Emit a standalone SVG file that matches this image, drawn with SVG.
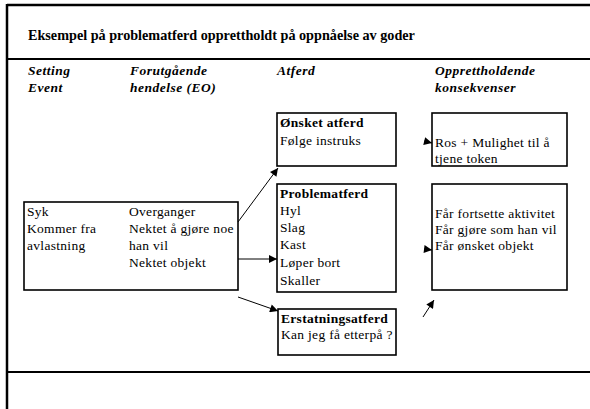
<svg xmlns="http://www.w3.org/2000/svg" width="590" height="409" viewBox="0 0 590 409">
<style>
.t{font-size:13.5px;letter-spacing:0.3px}
.b{font-weight:bold}
.h{font-size:13.5px;font-weight:bold;font-style:italic;letter-spacing:0.5px}
.title{font-size:14.2px;font-weight:bold}
.box{fill:#fff;stroke:#000;stroke-width:1.6}
.frame{stroke:#000;fill:none}
.conn line{stroke:#000;stroke-width:1}
</style>
<defs>
<marker id="ah" viewBox="0 0 10 10" refX="10" refY="5" markerWidth="9" markerHeight="8" markerUnits="userSpaceOnUse" orient="auto">
<path d="M0,0 L10,5 L0,10 z" fill="#000"/>
</marker>
</defs>
<rect width="590" height="409" fill="#fff"/>
<g font-family="'Liberation Serif', 'Times New Roman', serif" fill="#000">
<g id="frame">
<line class="frame" x1="7" y1="5" x2="590" y2="5" stroke-width="2.5"/>
<line class="frame" x1="7" y1="4" x2="7" y2="409" stroke-width="2.5"/>
<line class="frame" x1="7" y1="59" x2="590" y2="59" stroke-width="2"/>
<line class="frame" x1="7" y1="372" x2="590" y2="372" stroke-width="2"/>
</g>
<g id="title"><text class="title" x="28" y="40">Eksempel på problematferd opprettholdt på oppnåelse av goder</text></g>
<g id="headers">
<text class="h" x="28" y="75">Setting</text>
<text class="h" x="28" y="92">Event</text>
<text class="h" x="130" y="75">Forutgående</text>
<text class="h" x="130" y="92">hendelse (EO)</text>
<text class="h" x="277" y="75">Atferd</text>
<text class="h" x="435" y="75">Opprettholdende</text>
<text class="h" x="435" y="92">konsekvenser</text>
</g>
<g id="setting">
<rect class="box" x="24" y="202" width="214" height="88"/>
<text class="t" x="27" y="216">Syk</text>
<text class="t" x="27" y="233">Kommer fra</text>
<text class="t" x="27" y="250">avlastning</text>
<text class="t" x="129" y="216">Overganger</text>
<text class="t" x="129" y="233">Nektet å gjøre noe</text>
<text class="t" x="129" y="250">han vil</text>
<text class="t" x="129" y="267">Nektet objekt</text>
</g>
<g id="onsket">
<rect class="box" x="277" y="113" width="119" height="53"/>
<text class="t b" x="280" y="127">Ønsket atferd</text>
<text class="t" x="280" y="145">Følge instruks</text>
</g>
<g id="ros">
<rect class="box" x="432" y="113" width="135" height="53"/>
<text class="t" x="435" y="147">Ros + Mulighet til å</text>
<text class="t" x="435" y="163">tjene token</text>
</g>
<g id="problem">
<rect class="box" x="277" y="184" width="119" height="108"/>
<text class="t b" x="280" y="198">Problematferd</text>
<text class="t" x="280" y="215">Hyl</text>
<text class="t" x="280" y="232">Slag</text>
<text class="t" x="280" y="249">Kast</text>
<text class="t" x="280" y="267">Løper bort</text>
<text class="t" x="280" y="285">Skaller</text>
</g>
<g id="far">
<rect class="box" x="432" y="184" width="135" height="106"/>
<text class="t" x="435" y="218">Får fortsette aktivitet</text>
<text class="t" x="435" y="234">Får gjøre som han vil</text>
<text class="t" x="435" y="250">Får ønsket objekt</text>
</g>
<g id="erstatning">
<rect class="box" x="278" y="309" width="118" height="46"/>
<text class="t b" x="281" y="323">Erstatningsatferd</text>
<text class="t" x="281" y="339">Kan jeg få etterpå ?</text>
</g>
<g class="conn" id="connectors">
<line x1="238" y1="222" x2="278" y2="168" marker-end="url(#ah)"/>
<line x1="238" y1="259" x2="277" y2="259" marker-end="url(#ah)"/>
<line x1="238" y1="297" x2="278" y2="311" marker-end="url(#ah)"/>
<line x1="424" y1="141" x2="432" y2="143" marker-end="url(#ah)"/>
<line x1="424" y1="249" x2="432" y2="250" marker-end="url(#ah)"/>
<line x1="423" y1="317" x2="434" y2="300" marker-end="url(#ah)"/>
</g>
</g>
</svg>
